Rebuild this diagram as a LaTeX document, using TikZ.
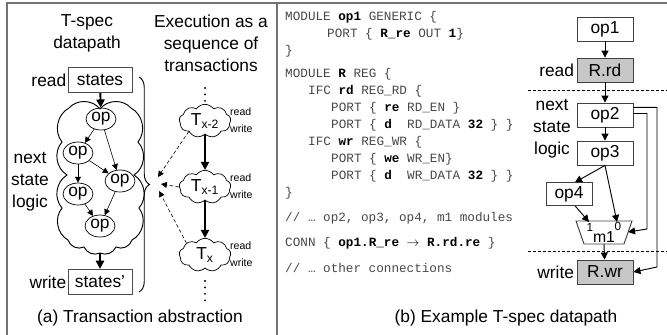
\documentclass[tikz,border=0pt]{standalone}
\usepackage{fontspec}
\setmainfont{Liberation Sans}
\setmonofont{Liberation Mono}
\usetikzlibrary{arrows.meta,shapes.geometric,shapes.symbols,decorations.pathreplacing}

\newcommand{\kw}[1]{\textcolor{black}{\textbf{#1}}}

\tikzset{
  frame/.style={draw=black!55, line width=1.3pt},
  box/.style={draw=black!75, line width=0.7pt, minimum width=1.68cm, minimum height=0.72cm, inner sep=0pt},
  regbox/.style={box, fill=black!22},
  stbox/.style={draw=black!70, line width=0.7pt, minimum width=1.92cm, minimum height=0.76cm, inner sep=0pt},
  opnode/.style={draw, ellipse, line width=0.6pt, minimum width=0.9cm, minimum height=0.66cm, inner sep=0pt},
  tcloud/.style={draw, cloud, cloud puffs=9, cloud puff arc=110, aspect=1.6, minimum width=1.55cm, minimum height=1cm, inner sep=0pt, line width=0.6pt},
  flowarr/.style={line width=1.6pt, -{Triangle[length=7pt,width=7pt]}},
  edgearr/.style={line width=0.5pt, -{Triangle[length=5pt,width=5pt]}},
  linkarr/.style={line width=0.8pt, -{Triangle[length=6pt,width=6pt]}},
  dasharr/.style={line width=0.5pt, dash pattern=on 3pt off 2pt, -{Triangle[length=5pt,width=5pt]}},
  vdots/.style={line width=1.8pt, line cap=round, dash pattern=on 0pt off 5.5pt},
  cutline/.style={line width=0.8pt, dash pattern=on 2.5pt off 1.7pt},
  rw/.style={font=\fontsize{9}{9}\selectfont, anchor=west, inner sep=0pt},
  code/.style={anchor=west, inner sep=0pt, font=\fontsize{10.8}{12}\ttfamily, text=black!72}
}

\begin{document}
\begin{tikzpicture}[x=0.03cm, y=-0.03cm, font=\fontsize{14.8}{18.7}\selectfont]
\useasboundingbox (0,0) rectangle (667,335);

\draw[frame] (7,335) -- (7,3) -- (667,3);
\draw[frame] (277,3) -- (277,335);

% (a)
\node[align=center] (ttl1) at (87,33) {T-spec\\datapath};
\node[align=center] (ttl2) at (211,43) {Execution as a\\sequence of\\transactions};

\node[stbox] (st) at (100,80) {states};
\node[anchor=east, inner sep=1pt] (rdl) at (st.west) {read};
\node[stbox] (st2) at (100,282) {states'};
\node[anchor=east, inner sep=1pt] (wrl) at (st2.west) {write};
\node[align=center] (nsl) at (30,182) {next\\state\\logic};

\draw[line width=0.8pt] (100,109) to[bend left=50] (131,108) to[bend left=50] (138,142)
  to[bend left=50] (134,175) to[bend left=50] (139,208) to[bend left=50] (132,240)
  to[bend left=50] (116,247) to[bend left=45] (100,253) to[bend left=45] (84,247)
  to[bend left=50] (68,240) to[bend left=50] (62,208) to[bend left=50] (67,175)
  to[bend left=50] (62,142) to[bend left=50] (69,108) to[bend left=50] (100,109);
\coordinate (spout) at (100,253);

\node[opnode] (oa) at (101,119) {op};
\node[opnode] (ob) at (78,153) {op};
\node[opnode] (oc) at (120,181) {op};
\node[opnode] (od) at (78,194) {op};
\node[opnode] (oe) at (100,226) {op};
\foreach \a/\b in {oa/ob,oa/oc,ob/od,ob/oc,od/oe,oc/oe}
  \draw[edgearr] (\a) -- (\b);

\draw[flowarr] (st) -- (oa);
\draw[flowarr] (spout) -- (st2);

\draw[line width=0.8pt, decorate, decoration={brace, amplitude=9pt}] (139,77) -- (139,292);

\node[tcloud] (tx2) at (205,121) {T\textsubscript{x-2}};
\node[tcloud] (tx1) at (205,187) {T\textsubscript{x-1}};
\node[tcloud] (tx0) at (205,255) {T\textsubscript{x}};
\draw[flowarr] (tx2) -- (tx1);
\draw[flowarr] (tx1) -- (tx0);
\foreach \t/\y in {tx2/121,tx1/187,tx0/255} {
  \node[rw] (\t r) at (230,\y-9) {read};
  \node[rw] (\t w) at (230,\y+8) {write};
}

\coordinate (d1) at (205,88);
\coordinate (d2) at (205,106);
\coordinate (d3) at (205,281);
\coordinate (d4) at (205,304);
\draw[vdots] (d1) -- (d2);
\draw[vdots] (d3) -- (d4);

\coordinate (b1) at (158,177);
\coordinate (b2) at (161,184);
\coordinate (b3) at (159,191);
\draw[dasharr] (tx2.south west) -- (b1);
\draw[dasharr] (tx1.west) -- (b2);
\draw[dasharr] (tx0.north west) -- (b3);

\node (capa) at (140,318) {(a) Transaction abstraction};

% (b)
\node[code] (l1) at (285,17) {MODULE \kw{op1} GENERIC \{};
\node[code] (l2) at (327,34) {PORT \{ \kw{R\_re} OUT \kw{1}\}};
\node[code] (l3) at (285,51) {\}};
\node[code] (l4) at (285,74) {MODULE \kw{R} REG \{};
\node[code] (l5) at (308,91) {IFC \kw{rd} REG\_RD \{};
\node[code] (l6) at (331,108) {PORT \{ \kw{re} RD\_EN \}};
\node[code] (l7) at (331,125) {PORT \{ \kw{d}~ RD\_DATA \kw{32} \} \}};
\node[code] (l8) at (308,142) {IFC \kw{wr} REG\_WR \{};
\node[code] (l9) at (331,159) {PORT \{ \kw{we} WR\_EN\}};
\node[code] (l10) at (331,176) {PORT \{ \kw{d}~ WR\_DATA \kw{32} \} \}};
\node[code] (l11) at (285,193) {\}};
\node[code] (l12) at (285,218) {// … op2, op3, op4, m1 modules};
\node[code] (l13) at (285,243) {CONN \{ \kw{op1.R\_re} \textcolor{black}{$\rightarrow$} \kw{R.rd.re} \}};
\node[code] (l14) at (285,268) {// … other connections};

\node[box] (op1) at (605,29) {op1};
\node[regbox] (rd) at (605,70) {R.rd};
\node[anchor=east, inner sep=2pt] (rdl2) at (rd.west) {read};
\node[box] (op2) at (605,115) {op2};
\node[box] (op3) at (605,153) {op3};
\node[box, minimum width=1.38cm, minimum height=0.68cm] (op4) at (569,194) {op4};
\node[regbox] (wr) at (605,272) {R.wr};
\node[anchor=east, inner sep=2pt] (wrl2) at (wr.west) {write};
\node[align=center] (nsl2) at (552,129) {next\\state\\logic};

\coordinate (mtl) at (576,221);
\coordinate (mtr) at (632,221);
\coordinate (mbr) at (624,244);
\coordinate (mbl) at (584,244);
\draw[line width=0.8pt, draw=black!75] (mtl) -- (mtr) -- (mbr) -- (mbl) -- cycle;
\node[font=\fontsize{13.5}{13.5}\selectfont, inner sep=0pt] (m1) at (604,237) {m1};
\node[font=\fontsize{10}{10}\selectfont, inner sep=0pt] (in1l) at (590,227) {1};
\node[font=\fontsize{10}{10}\selectfont, inner sep=0pt] (in0l) at (618,226) {0};
\coordinate (in1) at (589,222);
\coordinate (in0) at (617,222);
\coordinate (mout) at (604,244);
\coordinate (mr) at (628,232);

\draw[cutline] (528,90) -- (667,90);
\draw[cutline] (528,251) -- (667,251);

\foreach \a/\b in {op1/rd,rd/op2,op2/op3}
  \draw[linkarr] (\a) -- (\b);
\draw[linkarr] (op3.south) -- (op4.north -| 575,0);
\draw[linkarr] (op3.south) -- (in0);
\draw[linkarr] (op4.south -| 575,0) -- (in1);
\draw[linkarr] (mout) -- (wr);
\coordinate (c1) at (657,267);
\coordinate (c2) at (647,229);
\draw[linkarr] (op2.15) -| (c1) -- (wr.east);
\draw[linkarr] (op2.3) -| (c2) -- (mr);

\node (capb) at (506,318) {(b) Example T-spec datapath};
\end{tikzpicture}
\end{document}
